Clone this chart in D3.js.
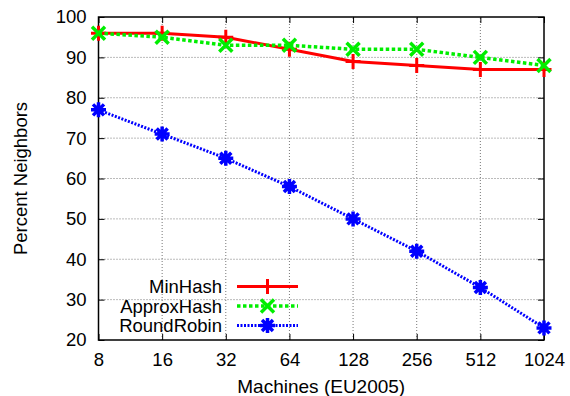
<!DOCTYPE html>
<html>
<head>
<meta charset="utf-8">
<script src="https://cdn.jsdelivr.net/npm/d3@7/dist/d3.min.js"></script>
<style>
  html, body { margin: 0; padding: 0; background: #fff; }
  svg { display: block; font-family: "Liberation Sans", Arial, sans-serif; }
</style>
</head>
<body>
<svg id="chart" width="570" height="396"></svg>
<script>
// Machine counts on the x axis (log2 spaced)
const machines = [8, 16, 32, 64, 128, 256, 512, 1024];
const yTicks = [20, 30, 40, 50, 60, 70, 80, 90, 100];

// Percent of neighbors kept on the same machine
const minHash     = [96, 96, 95, 92, 89, 88, 87, 87];
const approxHash  = [96, 95, 93, 93, 92, 92, 90, 88];
const roundRobin  = [77, 71, 65, 58, 50, 42, 33, 23];

const seriesNames = ["MinHash", "ApproxHash", "RoundRobin"];

const svg = d3.select("#chart");
const margin = { left: 98.5, right: 26, top: 17, bottom: 56 };
const W = 570, H = 396;

const x = d3.scaleLog().base(2).domain([8, 1024]).range([margin.left, W - margin.right]);
const y = d3.scaleLinear().domain([20, 100]).range([H - margin.bottom, margin.top]);

// Dotted grid
const grid = svg.append("g").attr("stroke", "#777").attr("stroke-width", 1).attr("stroke-dasharray", "1,2");
grid.selectAll("line.vx").data(machines.slice(1, -1)).join("line")
  .attr("x1", d => x(d)).attr("x2", d => x(d))
  .attr("y1", y(20)).attr("y2", y(100));
grid.selectAll("line.hy").data(yTicks.slice(1, -1)).join("line")
  .attr("x1", x(8)).attr("x2", x(1024))
  .attr("y1", d => y(d)).attr("y2", d => y(d));

// Axes with inward ticks, mirrored on top and right
const tickLen = 6;
const axB = d3.axisBottom(x).tickValues(machines).tickFormat(d3.format("d")).tickSizeInner(-tickLen).tickSizeOuter(0).tickPadding(13);
const axT = d3.axisTop(x).tickValues(machines).tickFormat("").tickSizeInner(-tickLen).tickSizeOuter(0);
const axL = d3.axisLeft(y).tickValues(yTicks).tickSizeInner(-tickLen).tickSizeOuter(0).tickPadding(12);
const axR = d3.axisRight(y).tickValues(yTicks).tickFormat("").tickSizeInner(-tickLen).tickSizeOuter(0);

function styleAxis(g) {
  g.select(".domain").remove();
  g.selectAll(".tick line").attr("stroke", "#000").attr("stroke-width", 1);
  g.selectAll(".tick text").attr("fill", "#000").attr("font-size", 18.5)
    .attr("font-family", "'Liberation Sans', Arial, sans-serif");
}
svg.append("g").attr("transform", `translate(0,${y(20)})`).call(axB).call(styleAxis);
svg.append("g").attr("transform", `translate(0,${y(100)})`).call(axT).call(styleAxis);
svg.append("g").attr("transform", `translate(${x(8)},0)`).call(axL).call(styleAxis);
svg.append("g").attr("transform", `translate(${x(1024)},0)`).call(axR).call(styleAxis);

// Frame
svg.append("rect")
  .attr("x", x(8)).attr("y", y(100))
  .attr("width", x(1024) - x(8)).attr("height", y(20) - y(100))
  .attr("fill", "none").attr("stroke", "#000").attr("stroke-width", 1.5);

// Axis titles
svg.append("text").attr("x", (x(8) + x(1024)) / 2).attr("y", 393)
  .attr("text-anchor", "middle").attr("font-size", 19).text("Machines (EU2005)");
svg.append("text").attr("transform", `translate(27,${(y(20) + y(100)) / 2}) rotate(-90)`)
  .attr("text-anchor", "middle").attr("font-size", 18.5).text("Percent Neighbors");

// Series styles
const styles = [
  { color: "#ff0000", width: 3, dash: null, marker: "plus" },
  { color: "#00ee00", width: 3.5, dash: "3.5,2.5", marker: "cross" },
  { color: "#0000ff", width: 3, dash: "2,1.5", marker: "star" }
];
const data = [minHash, approxHash, roundRobin];

function drawMarker(g, type, cx, cy, color) {
  const s = 7.5;
  const paths = [];
  if (type === "plus" || type === "star") paths.push(`M${cx - s},${cy}H${cx + s}M${cx},${cy - s}V${cy + s}`);
  if (type === "cross" || type === "star") {
    const c = type === "star" ? 5.5 : 6.5;
    paths.push(`M${cx - c},${cy - c}L${cx + c},${cy + c}M${cx - c},${cy + c}L${cx + c},${cy - c}`);
  }
  g.append("path").attr("d", paths.join("")).attr("stroke", color)
    .attr("stroke-width", type === "plus" ? 3 : 3.5).attr("fill", "none");
}

const line = d3.line().x((d, i) => x(machines[i])).y(d => y(d));
data.forEach((vals, k) => {
  const st = styles[k];
  const g = svg.append("g");
  g.append("path").datum(vals).attr("d", line)
    .attr("fill", "none").attr("stroke", st.color).attr("stroke-width", st.width)
    .attr("stroke-dasharray", st.dash);
  vals.forEach((v, i) => drawMarker(g, st.marker, x(machines[i]), y(v), st.color));
});

// Legend
const legendY = [286.5, 306, 325.5];
seriesNames.forEach((name, k) => {
  const st = styles[k];
  const ly = legendY[k];
  svg.append("text").attr("x", 222).attr("y", ly).attr("dy", "0.36em")
    .attr("text-anchor", "end").attr("font-size", 18.5).text(name);
  const g = svg.append("g");
  g.append("line").attr("x1", 237).attr("x2", 298).attr("y1", ly).attr("y2", ly)
    .attr("stroke", st.color).attr("stroke-width", st.width).attr("stroke-dasharray", st.dash);
  drawMarker(g, st.marker, 267.5, ly, st.color);
});
</script>
</body>
</html>
